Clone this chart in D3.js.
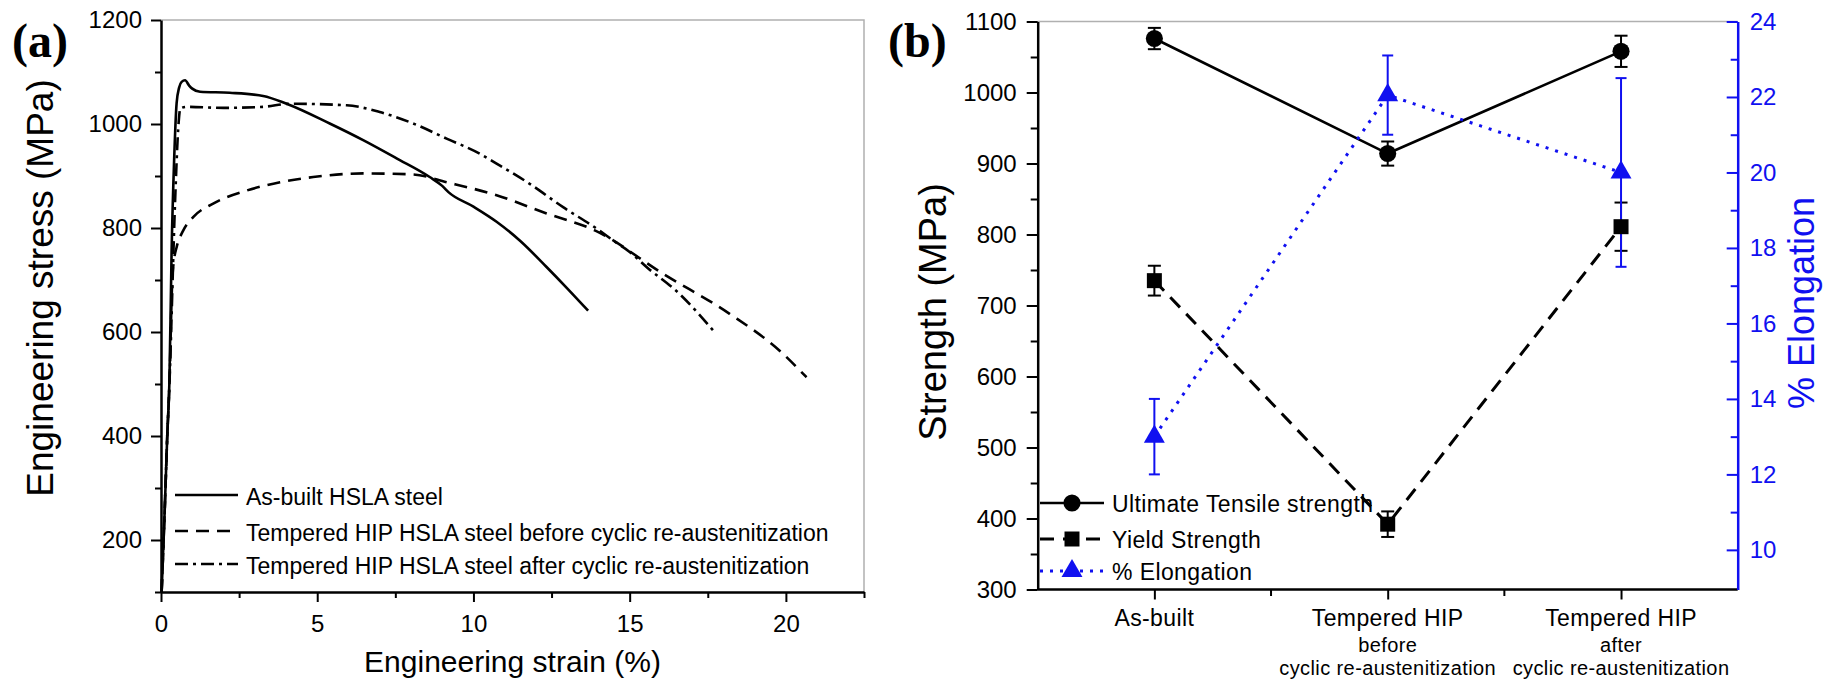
<!DOCTYPE html>
<html>
<head>
<meta charset="utf-8">
<script src="https://cdn.jsdelivr.net/npm/d3@7"></script>
<style>
  body { margin: 0; background: #fff; }
  svg { display: block; font-family: "Liberation Sans", Arial, sans-serif; }
</style>
</head>
<body>
<svg id="chart" width="1838" height="682"></svg>
<script>
// (a) engineering strain (%) / stress (MPa)
const asBuiltStrain = [0.02, 0.12, 0.2, 0.27, 0.34, 0.42, 0.5, 0.58, 0.66, 0.77, 0.9, 1.0, 1.25, 2.2, 3.27, 4.02, 5.4, 6.47, 7.54, 8.6, 9.0, 9.2, 10.0, 10.74, 11.5, 12.34, 13.0, 13.67];
const asBuiltStress = [100, 260, 400, 506, 757, 930, 1040, 1070, 1081, 1084, 1074, 1068, 1062, 1060, 1054, 1039, 1001, 969, 934, 898, 881, 869, 841, 812, 775, 725, 684, 641];

const beforeStrain = [0.02, 0.12, 0.2, 0.27, 0.36, 0.42, 0.5, 0.71, 1.03, 1.67, 2.74, 3.81, 4.87, 6.47, 8.07, 9.14, 10.74, 12.34, 13.9, 16.07, 18.2, 19.8, 20.66];
const beforeStress = [100, 260, 400, 500, 700, 740, 763, 795, 821, 847, 872, 888, 898, 905, 903, 888, 863, 828, 795, 712, 635, 564, 513];

const afterStrain = [0.02, 0.12, 0.2, 0.27, 0.45, 0.55, 0.62, 0.82, 2.0, 3.27, 4.13, 5.94, 7.0, 8.07, 9.14, 10.2, 10.74, 11.8, 12.87, 13.94, 14.47, 15.0, 15.54, 16.6, 17.67];
const afterStress = [100, 260, 400, 500, 850, 990, 1030, 1033, 1031, 1033, 1039, 1036, 1023, 1001, 972, 943, 924, 885, 840, 799, 776, 754, 725, 673, 603];

const curveNames = ["As-built HSLA steel", "Tempered HIP HSLA steel before cyclic re-austenitization", "Tempered HIP HSLA steel after cyclic re-austenitization"];

// (b) strength / elongation per condition
const categories = ["As-built", "Tempered HIP before", "Tempered HIP after"];
const categoryLines = [["As-built"], ["Tempered HIP", "before", "cyclic re-austenitization"], ["Tempered HIP", "after", "cyclic re-austenitization"]];
const utsValues = [1076, 914, 1058];
const utsErrors = [15, 17, 22];
const ysValues = [735, 392, 811];
const ysErrors = [21, 18, 34];
const elongValues = [13.0, 22.05, 20.0];
const elongErrors = [1.0, 1.05, 2.5];
const seriesNames = ["Ultimate Tensile strength", "Yield Strength", "% Elongation"];

const blue = "#1010f0";
const svg = d3.select("#chart");
const fmt = d3.format("d");

const styleAxis = (g, color, fontSize) => {
  g.attr("font-size", fontSize).attr("font-family", null);
  g.select(".domain").attr("stroke", color).attr("stroke-width", 2.5);
  g.selectAll(".tick line").attr("stroke", color).attr("stroke-width", 2);
  g.selectAll(".tick text").attr("fill", color);
};
const minorAxis = (g, color) => {
  g.select(".domain").remove();
  g.selectAll(".tick line").attr("stroke", color).attr("stroke-width", 2);
};

/* ---------------- panel (a) ---------------- */
const xA = d3.scaleLinear().domain([0, 22.5]).range([161, 864]);
const yA = d3.scaleLinear().domain([100, 1200]).range([592, 20]);

svg.append("path")
  .attr("d", `M${xA(0)},${yA(1200)}H${xA(22.5)}V${yA(100)}`)
  .attr("fill", "none")
  .attr("stroke", "#b0b0b0")
  .attr("stroke-width", 1.5);

svg.append("g")
  .attr("transform", `translate(0,${yA(100)})`)
  .call(d3.axisBottom(xA).tickValues([2.5, 7.5, 12.5, 17.5, 22.5]).tickSize(6).tickFormat(""))
  .call(minorAxis, "#000");
svg.append("g")
  .attr("transform", `translate(${xA(0)},0)`)
  .call(d3.axisLeft(yA).tickValues([100, 300, 500, 700, 900, 1100]).tickSize(6).tickFormat(""))
  .call(minorAxis, "#000");

svg.append("g")
  .attr("transform", `translate(0,${yA(100)})`)
  .call(d3.axisBottom(xA).tickValues([0, 5, 10, 15, 20]).tickFormat(fmt).tickSize(10).tickPadding(13).tickSizeOuter(0))
  .call(styleAxis, "#000", 24);
svg.append("g")
  .attr("transform", `translate(${xA(0)},0)`)
  .call(d3.axisLeft(yA).tickValues(d3.range(200, 1201, 200)).tickFormat(fmt).tickSize(10).tickPadding(9).tickSizeOuter(0))
  .call(styleAxis, "#000", 24);

const lineA = d3.line()
  .x(d => xA(d[0]))
  .y(d => yA(d[1]))
  .curve(d3.curveMonotoneX);

const curveDashes = [null, "13,8", "13,5,3,5"];
const curves = [
  d3.zip(asBuiltStrain, asBuiltStress),
  d3.zip(beforeStrain, beforeStress),
  d3.zip(afterStrain, afterStress)
];

curves.forEach((c, i) => {
  svg.append("path")
    .datum(c)
    .attr("fill", "none")
    .attr("stroke", "#000")
    .attr("stroke-width", 2.6)
    .attr("stroke-dasharray", curveDashes[i])
    .attr("d", lineA);
});

// legend (a)
const legA = [495, 531, 564];
curveNames.forEach((name, i) => {
  svg.append("line")
    .attr("x1", 175).attr("x2", 238)
    .attr("y1", legA[i]).attr("y2", legA[i])
    .attr("stroke", "#000")
    .attr("stroke-width", 2.6)
    .attr("stroke-dasharray", curveDashes[i]);
  svg.append("text")
    .attr("x", 246)
    .attr("y", legA[i] + 10)
    .attr("font-size", 23)
    .text(name);
});

svg.append("text")
  .attr("x", xA(11.25))
  .attr("y", 672)
  .attr("text-anchor", "middle")
  .attr("font-size", 30)
  .text("Engineering strain (%)");

svg.append("text")
  .attr("transform", "translate(53,288) rotate(-90)")
  .attr("text-anchor", "middle")
  .attr("font-size", 37)
  .text("Engineering stress (MPa)");

svg.append("text")
  .attr("x", 12).attr("y", 57)
  .attr("font-family", "Liberation Serif, Times New Roman, serif")
  .attr("font-weight", "bold")
  .attr("font-size", 48)
  .text("(a)");

/* ---------------- panel (b) ---------------- */
const xB = d3.scalePoint().domain(categories).range([1037.7, 1737.7]).padding(0.5);
const yL = d3.scaleLinear().domain([300, 1100]).range([589.5, 21.5]);
const yR = d3.scaleLinear().domain([8.95, 24]).range([589.5, 21.5]);

svg.append("line")
  .attr("x1", 1037.7).attr("x2", 1737.7)
  .attr("y1", 21.5).attr("y2", 21.5)
  .attr("stroke", "#b0b0b0")
  .attr("stroke-width", 1.5);

// minor ticks between categories
const mids = d3.pairs(categories).map(p => (xB(p[0]) + xB(p[1])) / 2);
svg.selectAll(".xminor")
  .data(mids)
  .join("line")
  .attr("x1", d => d).attr("x2", d => d)
  .attr("y1", 589.5).attr("y2", 596)
  .attr("stroke", "#000")
  .attr("stroke-width", 2);

svg.append("g")
  .attr("transform", "translate(1037.7,0)")
  .call(d3.axisLeft(yL).tickValues(d3.range(350, 1100, 100)).tickSize(7).tickFormat(""))
  .call(minorAxis, "#000");
svg.append("g")
  .attr("transform", "translate(1737.7,0)")
  .call(d3.axisRight(yR).tickValues(d3.range(11, 24, 2)).tickSize(-7).tickFormat(""))
  .call(minorAxis, blue);

const xAxisB = svg.append("g")
  .attr("transform", "translate(0,589.5)")
  .call(d3.axisBottom(xB).tickSize(10).tickSizeOuter(0).tickFormat(""))
  .call(styleAxis, "#000", 23);
xAxisB.select(".domain").attr("d", "M1037.7,0H1737.7");

svg.append("g")
  .attr("transform", "translate(1037.7,0)")
  .call(d3.axisLeft(yL).tickValues(d3.range(300, 1101, 100)).tickFormat(fmt).tickSize(11).tickPadding(10).tickSizeOuter(0))
  .call(styleAxis, "#000", 24);
svg.append("g")
  .attr("transform", "translate(1737.7,0)")
  .call(d3.axisRight(yR).tickValues(d3.range(10, 25, 2)).tickFormat(fmt).tickSize(-11).tickPadding(12).tickSizeOuter(0))
  .call(styleAxis, blue, 24);

// category labels
const lineBase = [626, 652, 675];
categories.forEach((c, i) => {
  const t = svg.append("text")
    .attr("text-anchor", "middle");
  categoryLines[i].forEach((s, j) => {
    t.append("tspan")
      .attr("x", xB(c))
      .attr("y", lineBase[j])
      .attr("font-size", j === 0 ? 23 : 20)
      .attr("letter-spacing", 0.4)
      .text(s);
  });
});

const lineL = d3.line().x((d, i) => xB(categories[i])).y(d => yL(d));
const lineR = d3.line().x((d, i) => xB(categories[i])).y(d => yR(d));

svg.append("path").datum(utsValues)
  .attr("fill", "none").attr("stroke", "#000").attr("stroke-width", 2.6)
  .attr("d", lineL);
svg.append("path").datum(ysValues)
  .attr("fill", "none").attr("stroke", "#000").attr("stroke-width", 3)
  .attr("stroke-dasharray", "14,9")
  .attr("d", lineL);
svg.append("path").datum(elongValues)
  .attr("fill", "none").attr("stroke", blue).attr("stroke-width", 3)
  .attr("stroke-dasharray", "3,7")
  .attr("d", lineR);

const errorBars = (vals, errs, scale, color, cap) => {
  vals.forEach((v, i) => {
    const x = xB(categories[i]);
    const g = svg.append("g").attr("stroke", color).attr("stroke-width", 2);
    g.append("line").attr("x1", x).attr("x2", x).attr("y1", scale(v - errs[i])).attr("y2", scale(v + errs[i]));
    [v - errs[i], v + errs[i]].forEach(e => {
      g.append("line").attr("x1", x - cap).attr("x2", x + cap).attr("y1", scale(e)).attr("y2", scale(e));
    });
  });
};
errorBars(utsValues, utsErrors, yL, "#000", 6.5);
errorBars(ysValues, ysErrors, yL, "#000", 6.5);
errorBars(elongValues, elongErrors, yR, blue, 5.5);

const circle = d3.symbol(d3.symbolCircle, 230);
const square = d3.symbol(d3.symbolSquare, 225);
const triangle = d3.symbol(d3.symbolTriangle, 190);

svg.selectAll(".uts").data(utsValues).join("path")
  .attr("transform", (d, i) => `translate(${xB(categories[i])},${yL(d)})`)
  .attr("d", circle).attr("fill", "#000");
svg.selectAll(".ys").data(ysValues).join("path")
  .attr("transform", (d, i) => `translate(${xB(categories[i])},${yL(d)})`)
  .attr("d", square).attr("fill", "#000");
svg.selectAll(".el").data(elongValues).join("path")
  .attr("transform", (d, i) => `translate(${xB(categories[i])},${yR(d)})`)
  .attr("d", triangle).attr("fill", blue);

// legend (b)
const legB = [503, 539, 571];
const legStyles = [
  { color: "#000", dash: null, w: 2.6, sym: circle },
  { color: "#000", dash: "14,9", w: 3, sym: square },
  { color: blue, dash: "3,7", w: 3, sym: triangle }
];
seriesNames.forEach((name, i) => {
  const s = legStyles[i];
  svg.append("line")
    .attr("x1", 1040).attr("x2", 1104)
    .attr("y1", legB[i]).attr("y2", legB[i])
    .attr("stroke", s.color)
    .attr("stroke-width", s.w)
    .attr("stroke-dasharray", s.dash);
  svg.append("path")
    .attr("transform", `translate(1072,${legB[i]})`)
    .attr("d", s.sym)
    .attr("fill", s.color);
  svg.append("text")
    .attr("x", 1112)
    .attr("y", legB[i] + 9)
    .attr("font-size", 23)
    .attr("letter-spacing", 0.4)
    .text(name);
});

svg.append("text")
  .attr("transform", "translate(946,312) rotate(-90)")
  .attr("text-anchor", "middle")
  .attr("font-size", 38)
  .text("Strength (MPa)");

svg.append("text")
  .attr("transform", "translate(1814,303) rotate(-90)")
  .attr("text-anchor", "middle")
  .attr("font-size", 36)
  .attr("fill", blue)
  .text("% Elongation");

svg.append("text")
  .attr("x", 888).attr("y", 57)
  .attr("font-family", "Liberation Serif, Times New Roman, serif")
  .attr("font-weight", "bold")
  .attr("font-size", 48)
  .text("(b)");
</script>
</body>
</html>
